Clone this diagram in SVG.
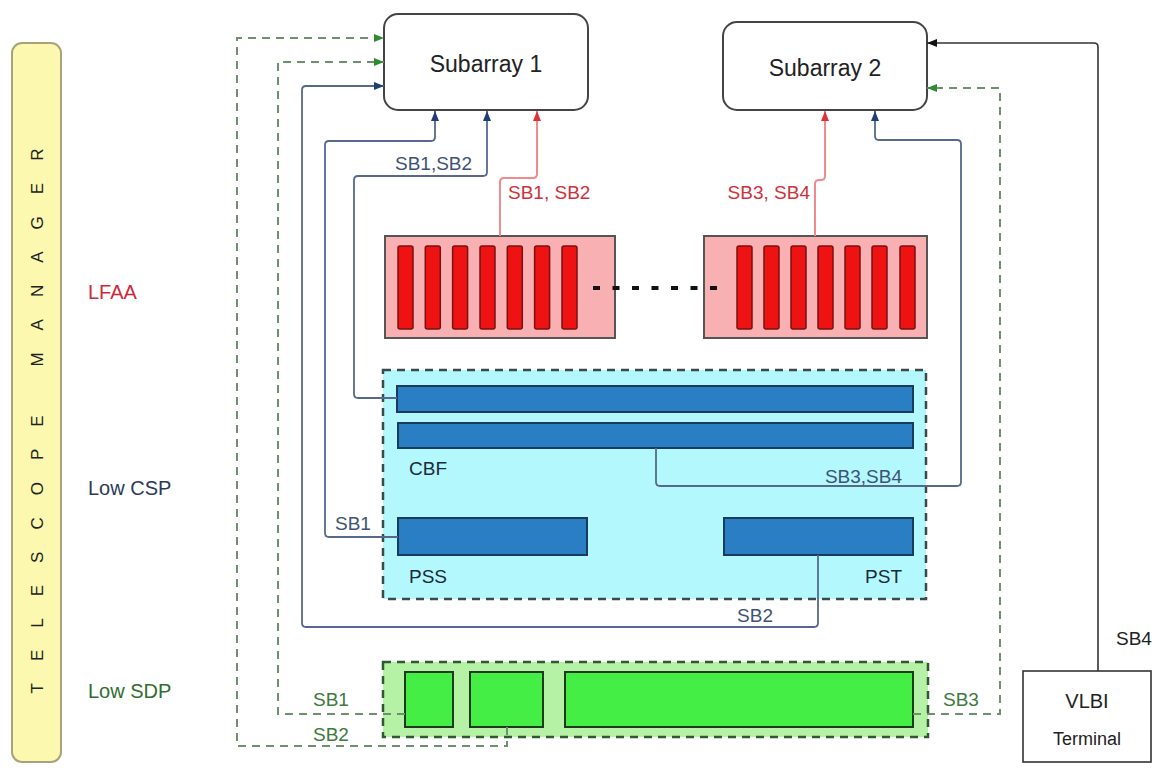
<svg xmlns="http://www.w3.org/2000/svg" width="1173" height="776" viewBox="0 0 1173 776">
<style>
text{font-family:"Liberation Sans",Arial,sans-serif;}
.sub{fill:#fff;stroke:#444;stroke-width:2;}
.lfaa{fill:#f8b0b3;stroke:#555;stroke-width:2;}
.rbar{fill:#ee1212;stroke:#7a1010;stroke-width:1.5;}
.bbar{fill:#2a7fc4;stroke:#1a3b5c;stroke-width:2;}
.gbar{fill:#44ee44;stroke:#1e3a1e;stroke-width:2;}
.blue{fill:none;stroke:#56698c;stroke-width:1.8;}
.red{fill:none;stroke:#f08a8f;stroke-width:2;}
.green{fill:none;stroke:#6f8f6f;stroke-width:2;stroke-dasharray:8 6;}
.black{fill:none;stroke:#333;stroke-width:1.6;}
.lbl{font-size:19px;}
</style>
<defs>
<marker id="ab" viewBox="0 0 10 10" refX="10" refY="5" markerWidth="10" markerHeight="10" markerUnits="userSpaceOnUse" orient="auto"><path d="M0,1 L10,5 L0,9 Z" fill="#1f3f73"/></marker>
<marker id="ar" viewBox="0 0 10 10" refX="10" refY="5" markerWidth="10" markerHeight="10" markerUnits="userSpaceOnUse" orient="auto"><path d="M0,1 L10,5 L0,9 Z" fill="#e0303a"/></marker>
<marker id="ag" viewBox="0 0 10 10" refX="10" refY="5" markerWidth="10" markerHeight="10" markerUnits="userSpaceOnUse" orient="auto"><path d="M0,1 L10,5 L0,9 Z" fill="#2e8b2e"/></marker>
<marker id="ak" viewBox="0 0 10 10" refX="10" refY="5" markerWidth="10" markerHeight="10" markerUnits="userSpaceOnUse" orient="auto"><path d="M0,1 L10,5 L0,9 Z" fill="#111"/></marker>
</defs>
<rect width="1173" height="776" fill="#fff"/>

<g id="telescope-manager">
<rect x="12" y="43" width="49" height="719" rx="10" fill="#fcf8b0" stroke="#a8a47a" stroke-width="2"/>
<text transform="translate(43,421) rotate(-90)" text-anchor="middle" font-size="17" fill="#222" textLength="545" lengthAdjust="spacing">TELESCOPE MANAGER</text>
</g>

<g id="row-labels">
<text x="88" y="299" font-size="20" fill="#d0283a">LFAA</text>
<text x="88" y="495" font-size="20" fill="#2a3a5a">Low CSP</text>
<text x="88" y="698" font-size="20" fill="#2e6e2e">Low SDP</text>
</g>

<g id="subarray1">
<rect class="sub" x="384" y="14" width="204" height="96" rx="14"/>
<text x="486" y="72" font-size="23" text-anchor="middle" fill="#222">Subarray 1</text>
</g>
<g id="subarray2">
<rect class="sub" x="723" y="22" width="204" height="88" rx="14"/>
<text x="825" y="76" font-size="23" text-anchor="middle" fill="#222">Subarray 2</text>
</g>

<g id="lfaa1">
<rect class="lfaa" x="385" y="236" width="230" height="102"/>
<rect class="rbar" x="398" y="246" width="15" height="83" rx="2"/>
<rect class="rbar" x="425.3" y="246" width="15" height="83" rx="2"/>
<rect class="rbar" x="452.6" y="246" width="15" height="83" rx="2"/>
<rect class="rbar" x="480" y="246" width="15" height="83" rx="2"/>
<rect class="rbar" x="507.3" y="246" width="15" height="83" rx="2"/>
<rect class="rbar" x="534.6" y="246" width="15" height="83" rx="2"/>
<rect class="rbar" x="562" y="246" width="15" height="83" rx="2"/>
</g>
<g id="lfaa2">
<rect class="lfaa" x="704" y="236" width="223" height="102"/>
<rect class="rbar" x="737" y="246" width="15" height="83" rx="2"/>
<rect class="rbar" x="764" y="246" width="15" height="83" rx="2"/>
<rect class="rbar" x="791" y="246" width="15" height="83" rx="2"/>
<rect class="rbar" x="818" y="246" width="15" height="83" rx="2"/>
<rect class="rbar" x="845" y="246" width="15" height="83" rx="2"/>
<rect class="rbar" x="872" y="246" width="15" height="83" rx="2"/>
<rect class="rbar" x="900" y="246" width="15" height="83" rx="2"/>
</g>
<g id="lfaa-ellipsis">
<line x1="593" y1="288" x2="720" y2="288" stroke="#111" stroke-width="4" stroke-dasharray="7 12.5"/>
</g>

<g id="low-csp">
<rect x="383" y="370" width="543" height="229" fill="#b3f8fc" stroke="#3a4a4a" stroke-width="2.5" stroke-dasharray="8 6"/>
</g>
<g id="cbf">
<rect class="bbar" x="397" y="386" width="516" height="26"/>
<rect class="bbar" x="398" y="423" width="515" height="25"/>
<text x="409" y="475" class="lbl" fill="#1a2a3a">CBF</text>
</g>
<g id="pss">
<rect class="bbar" x="398" y="518" width="189" height="37"/>
<text x="409" y="583" class="lbl" fill="#1a2a3a">PSS</text>
</g>
<g id="pst">
<rect class="bbar" x="724" y="518" width="189" height="37"/>
<text x="902" y="583" class="lbl" text-anchor="end" fill="#1a2a3a">PST</text>
</g>

<g id="low-sdp">
<rect x="383" y="662" width="545" height="75" fill="#b5f2a5" stroke="#2f5a2f" stroke-width="2.5" stroke-dasharray="8 6"/>
<rect class="gbar" x="405" y="672" width="48" height="55"/>
<rect class="gbar" x="470" y="672" width="73" height="55"/>
<rect class="gbar" x="565" y="672" width="348" height="55"/>
</g>

<g id="vlbi">
<rect x="1023" y="671" width="128" height="91" fill="#fff" stroke="#333" stroke-width="1.6"/>
<text x="1087" y="708" font-size="20" text-anchor="middle" fill="#222">VLBI</text>
<text x="1087" y="745" font-size="18" text-anchor="middle" fill="#222">Terminal</text>
</g>

<g id="connectors">
<path class="red" d="M500,236 V182 Q500,178 504,178 H533 Q537,178 537,174 V111" marker-end="url(#ar)"/>
<path class="red" d="M815,236 V184 Q815,180 819,180 H821 Q825,180 825,176 V111" marker-end="url(#ar)"/>
<path class="blue" d="M398,537 H329 Q325,537 325,533 V145 Q325,141 329,141 H431 Q435,141 435,137 V111" marker-end="url(#ab)"/>
<path class="blue" d="M397,398 H358 Q354,398 354,394 V180 Q354,176 358,176 H483 Q487,176 487,172 V111" marker-end="url(#ab)"/>
<path class="blue" d="M818,555 V623 Q818,627 814,627 H306 Q302,627 302,623 V90 Q302,86 306,86 H384" marker-end="url(#ab)"/>
<path class="blue" d="M656,448 V482 Q656,486 660,486 H957 Q961,486 961,482 V144 Q961,140 957,140 H879 Q875,140 875,136 V111" marker-end="url(#ab)"/>
<path class="green" d="M507,727 V746 H237 V38 H384" marker-end="url(#ag)"/>
<path class="green" d="M405,714 H278 V62 H384" marker-end="url(#ag)"/>
<path class="green" d="M913,714 H1000 V88 H927" marker-end="url(#ag)"/>
<path class="black" d="M1098,671 V47 Q1098,43 1094,43 H927" marker-end="url(#ak)"/>
</g>

<g id="connector-labels" class="lbl">
<text x="395" y="170" fill="#3d5275">SB1,SB2</text>
<text x="508" y="199" fill="#d0303a">SB1, SB2</text>
<text x="810" y="199" text-anchor="end" fill="#d0303a">SB3, SB4</text>
<text x="902" y="483" text-anchor="end" fill="#3d5275">SB3,SB4</text>
<text x="335" y="530" fill="#3d5275">SB1</text>
<text x="773" y="622" text-anchor="end" fill="#3d5275">SB2</text>
<text x="313" y="706" fill="#3d7a3d">SB1</text>
<text x="313" y="741" fill="#3d7a3d">SB2</text>
<text x="943" y="706" fill="#3d7a3d">SB3</text>
<text x="1116" y="645" fill="#222">SB4</text>
</g>
</svg>
